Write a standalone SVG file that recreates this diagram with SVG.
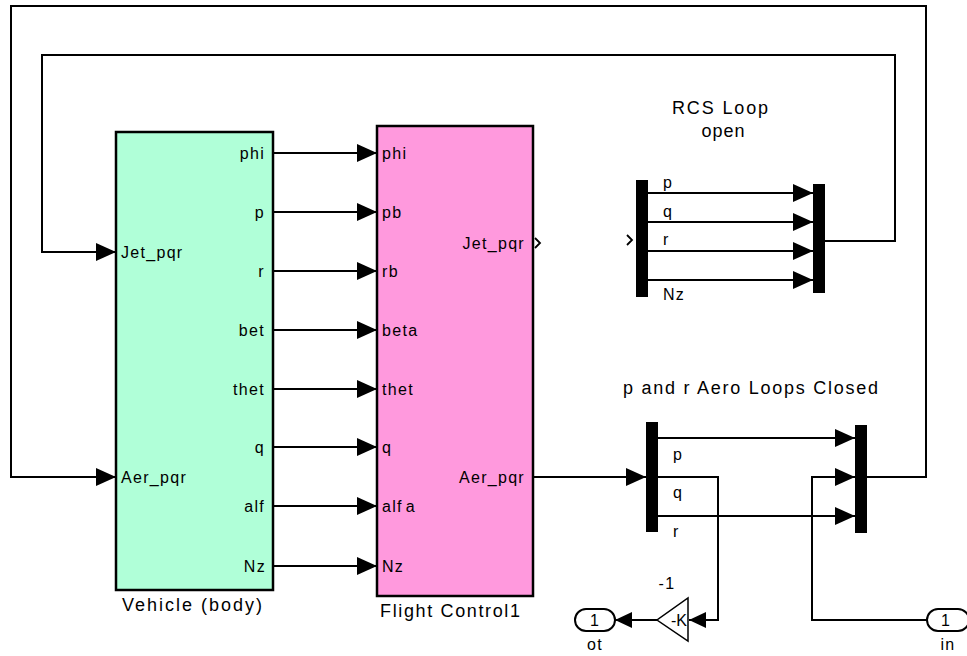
<svg xmlns="http://www.w3.org/2000/svg" width="967" height="656" viewBox="0 0 967 656">
<defs>
<marker id="ah" markerUnits="userSpaceOnUse" markerWidth="20" markerHeight="18" viewBox="0 0 20 18" refX="20" refY="9" orient="auto"><path d="M0,0 L20,9 L0,18 z" fill="#000"/></marker>
<marker id="ahs" markerUnits="userSpaceOnUse" markerWidth="17" markerHeight="16" viewBox="0 0 17 16" refX="17" refY="8" orient="auto"><path d="M0,0 L17,8 L0,16 z" fill="#000"/></marker>
</defs>
<style>
text{font-family:"Liberation Sans",Arial,Helvetica,sans-serif;font-size:16px;fill:#000;letter-spacing:1.3px}
.end{text-anchor:end}
.mid{text-anchor:middle}
.big{font-size:18px;letter-spacing:0}
.conn{fill:none;stroke:#000;stroke-width:2}
.arr{marker-end:url(#ah)}
.bar{fill:#000}
.blk{stroke:#000;stroke-width:2.5}
.port{fill:#fff;stroke:#000;stroke-width:2}
.chev{fill:none;stroke:#000;stroke-width:1.8}
</style>

<g id="connectors">
<path class="conn arr" d="M273,153 H377"/>
<path class="conn arr" d="M273,212 H377"/>
<path class="conn arr" d="M273,271 H377"/>
<path class="conn arr" d="M273,330 H377"/>
<path class="conn arr" d="M273,389 H377"/>
<path class="conn arr" d="M273,447 H377"/>
<path class="conn arr" d="M273,506 H377"/>
<path class="conn arr" d="M273,566 H377"/>
<path class="conn arr" d="M825,241 H895 V55 H42 V252 H116"/>
<path class="conn arr" d="M867,477 H926 V6 H11 V477 H116"/>
<path class="conn arr" d="M533,477 H646"/>
<path class="conn arr" d="M648,193 H813"/>
<path class="conn arr" d="M648,222 H813"/>
<path class="conn arr" d="M648,251 H813"/>
<path class="conn arr" d="M648,280 H813"/>
<path class="conn arr" d="M658,438 H855"/>
<path class="conn arr" d="M658,516 H855"/>
<path class="conn" d="M658,477 H718 V620 H689" marker-end="url(#ahs)"/>
<path class="conn" d="M657,620 H615" marker-end="url(#ahs)"/>
<path class="conn arr" d="M927,620 H812 V477 H855"/>
</g>

<g id="vehicle">
<rect class="blk" x="116" y="132" width="157" height="458" fill="#b0ffd8"/>
<text class="end" x="265" y="159">phi</text>
<text class="end" x="265" y="218">p</text>
<text class="end" x="265" y="277">r</text>
<text class="end" x="265" y="336">bet</text>
<text class="end" x="265" y="395">thet</text>
<text class="end" x="265" y="453">q</text>
<text class="end" x="265" y="512">alf</text>
<text class="end" x="266" y="572">Nz</text>
<text x="121" y="258">Jet_pqr</text>
<text x="121" y="483">Aer_pqr</text>
<text class="big" x="122" y="611" textLength="140" lengthAdjust="spacing">Vehicle (body)</text>
</g>

<g id="flight-control">
<rect class="blk" x="377" y="126" width="156" height="470" fill="#ff99dd"/>
<text x="382" y="159">phi</text>
<text x="382" y="218">pb</text>
<text x="382" y="277">rb</text>
<text x="382" y="336">beta</text>
<text x="382" y="395">thet</text>
<text x="382" y="453">q</text>
<text x="382" y="512">alf<tspan dx="3">a</tspan></text>
<text x="382" y="572">Nz</text>
<text class="end" x="525" y="249">Jet_pqr</text>
<text class="end" x="525" y="483">Aer_pqr</text>
<polyline class="chev" points="535,238 540,243 535,248"/>
<text class="big" x="380" y="617" textLength="140" lengthAdjust="spacing">Flight Control1</text>
</g>

<g id="rcs-demux">
<rect class="bar" x="636" y="180" width="12" height="117"/>
<polyline class="chev" points="627,235 632,240 627,245"/>
<text x="663" y="188">p</text>
<text x="663" y="217">q</text>
<text x="663" y="245">r</text>
<text x="663" y="300">Nz</text>
</g>
<g id="rcs-mux">
<rect class="bar" x="813" y="184" width="12" height="109"/>
</g>
<g id="rcs-label">
<text class="big mid" x="720" y="114" textLength="96" lengthAdjust="spacing">RCS Loop</text>
<text class="big mid" x="723" y="137" textLength="43" lengthAdjust="spacing">open</text>
</g>

<g id="aero-demux">
<rect class="bar" x="646" y="422" width="12" height="110"/>
<text x="673" y="460">p</text>
<text x="673" y="498">q</text>
<text x="673" y="537">r</text>
</g>
<g id="aero-mux">
<rect class="bar" x="855" y="425" width="12" height="108"/>
</g>
<g id="aero-label">
<text class="big" x="623" y="394" textLength="255" lengthAdjust="spacing">p and r Aero Loops Closed</text>
</g>

<g id="gain">
<polygon points="688,598 688,641 657,620" fill="#fff" stroke="#000" stroke-width="1.5"/>
<text class="mid" x="679" y="626" style="letter-spacing:0">-K</text>
<text class="mid" x="667" y="589">-1</text>
</g>

<g id="outport-ot">
<rect class="port" x="575" y="609" width="40" height="22" rx="11"/>
<text class="mid" x="595" y="626">1</text>
<text class="mid" x="595" y="650">ot</text>
</g>

<g id="inport-in">
<rect class="port" x="927" y="609" width="42" height="22" rx="11"/>
<text class="mid" x="946" y="626">1</text>
<text class="mid" x="948" y="650">in</text>
</g>
</svg>
